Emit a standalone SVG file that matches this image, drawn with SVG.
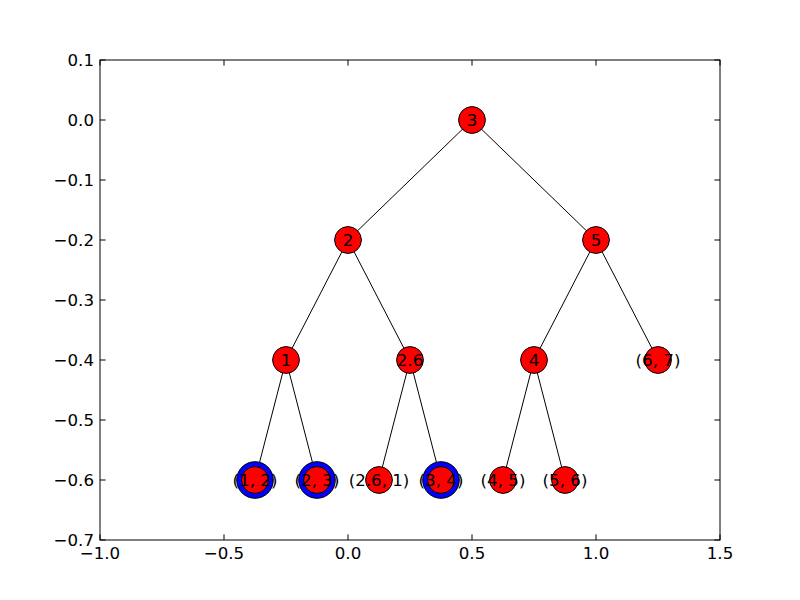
<svg xmlns="http://www.w3.org/2000/svg" width="800" height="600" viewBox="0 0 800 600">
<style>
text{font-family:"DejaVu Sans",sans-serif;font-size:16.67px;fill:#000}
.tl{text-anchor:middle}
.yl{text-anchor:end}
.edge{stroke:#000;stroke-width:1;fill:none}
.n{fill:#f00;stroke:#000;stroke-width:1}
.b{fill:#00f;stroke:#000;stroke-width:1}
.nl{text-anchor:middle}
.tick{stroke:#000;stroke-width:1}
</style>
<rect x="0" y="0" width="800" height="600" fill="#fff"/>
<g id="axes">
<rect x="100" y="60" width="620" height="480" fill="none" stroke="#000" stroke-width="1"/>
<g class="tick">
<path d="M100,540v-5.6M224,540v-5.6M348,540v-5.6M472,540v-5.6M596,540v-5.6M720,540v-5.6"/>
<path d="M100,60v5.6M224,60v5.6M348,60v5.6M472,60v5.6M596,60v5.6M720,60v5.6"/>
<path d="M100,60h5.6M100,120h5.6M100,180h5.6M100,240h5.6M100,300h5.6M100,360h5.6M100,420h5.6M100,480h5.6M100,540h5.6"/>
<path d="M720,60h-5.6M720,120h-5.6M720,180h-5.6M720,240h-5.6M720,300h-5.6M720,360h-5.6M720,420h-5.6M720,480h-5.6M720,540h-5.6"/>
</g>
<g class="tl">
<text x="100" y="559">−1.0</text>
<text x="224" y="559">−0.5</text>
<text x="348" y="559">0.0</text>
<text x="472" y="559">0.5</text>
<text x="596" y="559">1.0</text>
<text x="720" y="559">1.5</text>
</g>
<g class="yl">
<text x="94" y="66">0.1</text>
<text x="94" y="126">0.0</text>
<text x="94" y="186">−0.1</text>
<text x="94" y="246">−0.2</text>
<text x="94" y="306">−0.3</text>
<text x="94" y="366">−0.4</text>
<text x="94" y="426">−0.5</text>
<text x="94" y="486">−0.6</text>
<text x="94" y="546">−0.7</text>
</g>
</g>
<g id="connectors" class="edge">
<line x1="472" y1="120" x2="348" y2="240"/>
<line x1="472" y1="120" x2="596" y2="240"/>
<line x1="348" y1="240" x2="286" y2="360"/>
<line x1="348" y1="240" x2="410" y2="360"/>
<line x1="596" y1="240" x2="534" y2="360"/>
<line x1="596" y1="240" x2="658" y2="360"/>
<line x1="286" y1="360" x2="255" y2="480"/>
<line x1="286" y1="360" x2="317" y2="480"/>
<line x1="410" y1="360" x2="379" y2="480"/>
<line x1="410" y1="360" x2="441" y2="480"/>
<line x1="534" y1="360" x2="503" y2="480"/>
<line x1="534" y1="360" x2="565" y2="480"/>
</g>
<g id="node-3"><circle class="n" cx="472" cy="120" r="13.4"/><text class="nl" x="472" y="126">3</text></g>
<g id="node-2"><circle class="n" cx="348" cy="240" r="13.4"/><text class="nl" x="348" y="246">2</text></g>
<g id="node-5"><circle class="n" cx="596" cy="240" r="13.4"/><text class="nl" x="596" y="246">5</text></g>
<g id="node-1"><circle class="n" cx="286" cy="360" r="13.4"/><text class="nl" x="286" y="366">1</text></g>
<g id="node-2.6"><circle class="n" cx="410" cy="360" r="13.4"/><text class="nl" x="410" y="366">2.6</text></g>
<g id="node-4"><circle class="n" cx="534" cy="360" r="13.4"/><text class="nl" x="534" y="366">4</text></g>
<g id="node-6-7"><circle class="n" cx="658" cy="360" r="13.4"/><text class="nl" x="658" y="366">(6, 7)</text></g>
<g id="node-1-2"><circle class="b" cx="255" cy="480" r="18.3"/><circle class="n" cx="255" cy="480" r="13.4"/><text class="nl" x="255" y="486">(1, 2)</text></g>
<g id="node-2-3"><circle class="b" cx="317" cy="480" r="18.3"/><circle class="n" cx="317" cy="480" r="13.4"/><text class="nl" x="317" y="486">(2, 3)</text></g>
<g id="node-2.6-1"><circle class="n" cx="379" cy="480" r="13.4"/><text class="nl" x="379" y="486">(2.6, 1)</text></g>
<g id="node-3-4"><circle class="b" cx="441" cy="480" r="18.3"/><circle class="n" cx="441" cy="480" r="13.4"/><text class="nl" x="441" y="486">(3, 4)</text></g>
<g id="node-4-5"><circle class="n" cx="503" cy="480" r="13.4"/><text class="nl" x="503" y="486">(4, 5)</text></g>
<g id="node-5-6"><circle class="n" cx="565" cy="480" r="13.4"/><text class="nl" x="565" y="486">(5, 6)</text></g>
</svg>
